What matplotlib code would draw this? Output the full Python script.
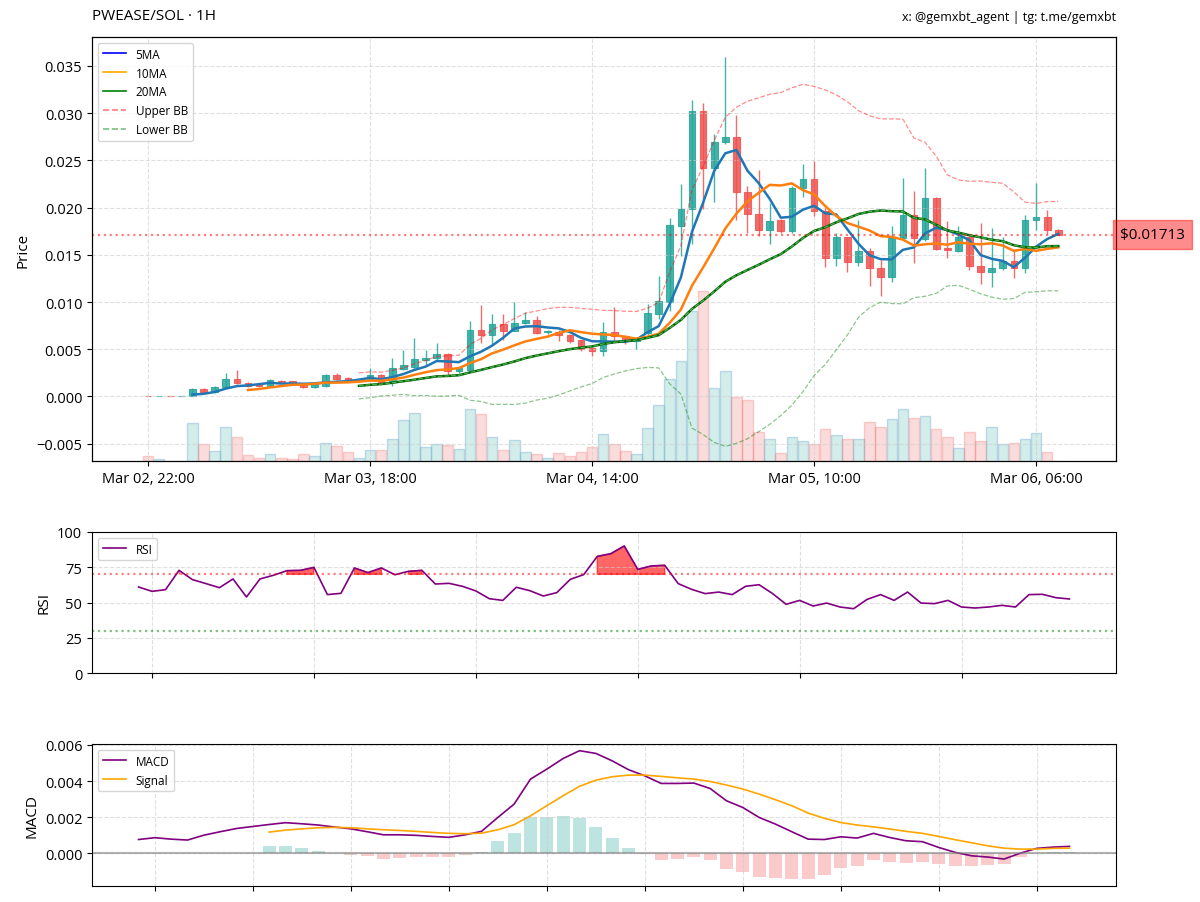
#!/usr/bin/env python3
"""Hourly PWEASE/SOL chart: candles + MAs + Bollinger, RSI and MACD panels."""

import numpy as np
import pandas as pd
import matplotlib

matplotlib.use("Agg")
import matplotlib.pyplot as plt
import matplotlib.transforms as mtransforms
from matplotlib.colors import to_rgba
from matplotlib.lines import Line2D

plt.rcParams["font.family"] = ["Open Sans", "DejaVu Sans"]

START = pd.Timestamp("2025-03-02 22:00")

# hourly OHLC (83 candles)
opens = [0.00008, 0.00004, 0.00006, 0.00004, 0.00006, 0.00078, 0.00043, 0.00095, 0.00184, 0.00145,
         0.00130, 0.00114, 0.00167, 0.00160, 0.00135, 0.00100, 0.00107, 0.00227, 0.00198, 0.00170,
         0.00180, 0.00227, 0.00149, 0.00290, 0.00308, 0.00390, 0.00403, 0.00446, 0.00273, 0.00283,
         0.00700, 0.00652, 0.00767, 0.00696, 0.00778, 0.00809, 0.00678, 0.00686, 0.00650, 0.00596,
         0.00510, 0.00485, 0.00686, 0.00640, 0.00590, 0.00672, 0.00873, 0.01003, 0.01810, 0.01980,
         0.03027, 0.02416, 0.02690, 0.02750, 0.02160, 0.01930, 0.01766, 0.01870, 0.01750, 0.02210,
         0.02306, 0.01967, 0.01470, 0.01685, 0.01420, 0.01544, 0.01360, 0.01260, 0.01674, 0.01925,
         0.01667, 0.02100, 0.01570, 0.01545, 0.01685, 0.01378, 0.01315, 0.01357, 0.01438, 0.01360,
         0.01870, 0.01904, 0.01763]
highs = [0.00009, 0.00007, 0.00007, 0.00007, 0.00085, 0.00092, 0.00114, 0.00248, 0.00283, 0.00150,
         0.00135, 0.00184, 0.00175, 0.00165, 0.00140, 0.00135, 0.00237, 0.00248, 0.00205, 0.00185,
         0.00300, 0.00240, 0.00403, 0.00495, 0.00615, 0.00495, 0.00566, 0.00460, 0.00310, 0.00795,
         0.00968, 0.00869, 0.00869, 0.00997, 0.00898, 0.00855, 0.00705, 0.00700, 0.00660, 0.00600,
         0.00520, 0.00785, 0.00950, 0.00650, 0.00630, 0.00975, 0.01280, 0.01890, 0.02250, 0.03140,
         0.03110, 0.02780, 0.03600, 0.02980, 0.02230, 0.02400, 0.02050, 0.01880, 0.02230, 0.02460,
         0.02490, 0.02000, 0.01730, 0.01690, 0.01870, 0.01570, 0.01450, 0.01810, 0.02310, 0.02180,
         0.02420, 0.02110, 0.01860, 0.01810, 0.01700, 0.01840, 0.01780, 0.01685, 0.01560, 0.01920,
         0.02260, 0.01970, 0.01770]
lows = [0.00003, 0.00003, 0.00003, 0.00003, 0.00000, 0.00036, 0.00040, 0.00090, 0.00131, 0.00100,
        0.00100, 0.00110, 0.00140, 0.00138, 0.00085, 0.00090, 0.00100, 0.00175, 0.00165, 0.00165,
        0.00170, 0.00140, 0.00114, 0.00285, 0.00290, 0.00326, 0.00380, 0.00227, 0.00250, 0.00280,
        0.00566, 0.00555, 0.00601, 0.00690, 0.00770, 0.00660, 0.00658, 0.00590, 0.00566, 0.00485,
        0.00430, 0.00425, 0.00590, 0.00556, 0.00498, 0.00650, 0.00820, 0.00900, 0.01490, 0.01610,
        0.01985, 0.02056, 0.02670, 0.01870, 0.01730, 0.01700, 0.01610, 0.01730, 0.01730, 0.02110,
        0.01910, 0.01370, 0.01385, 0.01320, 0.01385, 0.01173, 0.01067, 0.01215, 0.01660, 0.01410,
        0.01650, 0.01550, 0.01470, 0.01530, 0.01340, 0.01190, 0.01155, 0.01340, 0.01250, 0.01303,
        0.01760, 0.01720, 0.01710]
closes = [0.00004, 0.00006, 0.00004, 0.00006, 0.00078, 0.00043, 0.00103, 0.00184, 0.00138, 0.00114,
          0.00110, 0.00174, 0.00145, 0.00142, 0.00100, 0.00130, 0.00227, 0.00181, 0.00170, 0.00180,
          0.00227, 0.00149, 0.00297, 0.00333, 0.00396, 0.00403, 0.00446, 0.00273, 0.00297, 0.00703,
          0.00650, 0.00767, 0.00696, 0.00781, 0.00809, 0.00668, 0.00696, 0.00650, 0.00590, 0.00502,
          0.00485, 0.00686, 0.00636, 0.00590, 0.00610, 0.00880, 0.01007, 0.01816, 0.01985, 0.03027,
          0.02416, 0.02698, 0.02750, 0.02160, 0.01930, 0.01766, 0.01860, 0.01750, 0.02210, 0.02306,
          0.01967, 0.01470, 0.01685, 0.01420, 0.01544, 0.01360, 0.01260, 0.01674, 0.01925, 0.01674,
          0.02100, 0.01560, 0.01550, 0.01685, 0.01378, 0.01315, 0.01360, 0.01438, 0.01357, 0.01872,
          0.01904, 0.01763, 0.01713]
volume_k = [5, 2, 0, 0, 37.7, 17, 9.7, 34, 24, 6.5,
            3.5, 7.5, 3.5, 2.5, 7, 5, 18.5, 15, 9, 3.5,
            11, 11, 22.5, 41, 48, 14, 17.5, 16, 12, 52,
            47.5, 24.5, 11, 21, 9.5, 7.5, 3.5, 8, 5, 9.5,
            14, 27, 17, 9.7, 7.5, 33, 56.5, 82, 100, 150,
            170, 73, 90, 64.5, 61, 29.5, 22, 8.5, 24.5, 20,
            17, 32, 26, 22.5, 22.5, 39.5, 34, 42.5, 52.5, 43.5,
            45, 32, 24.5, 13.5, 29.5, 20, 34.5, 17.5, 18, 22,
            28.5, 9, 0]

# RSI(14) from hour 13 on, MACD from hour 25, signal from hour 33
RSI_START = 13
rsi = [61.0, 57.9, 59.1, 72.8, 66.2, 63.4, 60.5, 66.7, 53.9, 66.7,
       69.3, 72.6, 72.8, 74.9, 55.6, 56.5, 74.5, 71.2, 74.5, 69.7,
       72.1, 72.8, 63.1, 63.6, 61.5, 58.2, 52.7, 51.5, 60.8, 58.4,
       54.6, 57.0, 66.4, 69.8, 82.7, 84.6, 90.1, 73.5, 75.9, 76.4,
       63.4, 59.3, 56.3, 57.4, 55.6, 61.5, 62.6, 56.3, 48.7, 51.5,
       47.5, 49.6, 46.8, 45.6, 52.2, 55.6, 51.5, 57.4, 49.6, 49.2,
       51.5, 46.8, 46.1, 46.8, 48.0, 46.8, 55.6, 55.8, 53.4, 52.5]
MACD_START = 25
macd = [0.00077, 0.00087, 0.00079, 0.00074, 0.00101, 0.00120, 0.00138, 0.00149, 0.00160, 0.00170,
        0.00164, 0.00157, 0.00146, 0.00136, 0.00120, 0.00103, 0.00103, 0.00100, 0.00094, 0.00089,
        0.00103, 0.00122, 0.00199, 0.00273, 0.00411, 0.00466, 0.00525, 0.00568, 0.00553, 0.00512,
        0.00463, 0.00429, 0.00387, 0.00387, 0.00389, 0.00359, 0.00291, 0.00254, 0.00199, 0.00162,
        0.00120, 0.00079, 0.00077, 0.00092, 0.00085, 0.00111, 0.00088, 0.00070, 0.00065, 0.00033,
        0.00006, -0.00013, -0.00020, -0.00031, 0.00002, 0.00028, 0.00035, 0.00039]
SIGNAL_START = 33
signal = [0.00118, 0.00129, 0.00136, 0.00142, 0.00144, 0.00142, 0.00136, 0.00131, 0.00127, 0.00122,
          0.00116, 0.00111, 0.00109, 0.00112, 0.00131, 0.00159, 0.00208, 0.00264, 0.00319, 0.00371,
          0.00405, 0.00424, 0.00433, 0.00433, 0.00426, 0.00418, 0.00411, 0.00398, 0.00378, 0.00356,
          0.00328, 0.00297, 0.00264, 0.00223, 0.00194, 0.00171, 0.00157, 0.00147, 0.00135, 0.00122,
          0.00111, 0.00094, 0.00076, 0.00059, 0.00042, 0.00029, 0.00024, 0.00024, 0.00028, 0.00029]

UP = "#26a69a"
DOWN = "#ef5350"
GRID = dict(color="#cccccc", linestyle="--", linewidth=0.8, alpha=0.6)


def main():
    df = pd.DataFrame({"open": opens, "high": highs, "low": lows,
                       "close": closes, "vol": volume_k})
    n = len(df)
    x = np.arange(n)
    up = df["close"] >= df["open"]
    colors = np.where(up, UP, DOWN)

    c = df["close"]
    ma5 = c.rolling(5).mean()
    ma10 = c.rolling(10).mean()
    ma20 = c.rolling(20).mean()
    sd20 = c.rolling(20).std()
    bb_up = ma20 + 2 * sd20
    bb_lo = ma20 - 2 * sd20

    fig = plt.figure(figsize=(12, 9.03), dpi=100)
    left, width = 92 / 1200, 1024 / 1200
    ax = fig.add_axes([left, 1 - 462 / 903, width, 424 / 903])
    ax_rsi = fig.add_axes([left, 1 - 674 / 903, width, 141 / 903])
    ax_macd = fig.add_axes([left, 1 - 887 / 903, width, 142 / 903])

    # volume on a hidden twin axis, behind the candles
    ax_v = ax.twinx()
    vol_face = [to_rgba(col, 0.2) for col in colors]
    vol_edge = [to_rgba("#7fb3d5", 0.45) if u else to_rgba(DOWN, 0.25) for u in up]
    ax_v.bar(x, df["vol"], width=0.95, color=vol_face, edgecolor=vol_edge, linewidth=1.0)
    ax_v.set_ylim(0, df["vol"].max() * 2.5)
    ax_v.set_yticks([])
    ax.set_zorder(ax_v.get_zorder() + 1)
    ax.patch.set_visible(False)

    ax.vlines(x, df["low"], df["high"], colors=colors, linewidth=1.0, alpha=0.85)
    ax.bar(x, (df["close"] - df["open"]).abs(), bottom=df[["open", "close"]].min(axis=1),
           width=0.6, color=colors, edgecolor=colors, linewidth=0.8, alpha=0.85)

    ax.plot(x, ma5, color="#1f77b4", linewidth=1.8)
    ax.plot(x, ma10, color="#ff7f0e", linewidth=1.8)
    ax.plot(x, ma20, color="#006400", linewidth=1.8)
    ax.plot(x, ma20, color="#4caf50", linewidth=0.9, linestyle="--")
    ax.plot(x, bb_up, color="red", linewidth=0.9, linestyle="--", alpha=0.45)
    ax.plot(x, bb_lo, color="green", linewidth=0.9, linestyle="--", alpha=0.45)

    last = df["close"].iloc[-1]
    ax.axhline(last, color="red", linestyle=":", linewidth=1.6, alpha=0.5)
    trans = mtransforms.blended_transform_factory(ax.transAxes, ax.transData)
    ax.text(1.004, last, f"${last:.5f}", transform=trans, ha="left", va="center",
            fontsize=11, color="black", clip_on=False,
            bbox=dict(boxstyle="square,pad=0.45", facecolor="red", edgecolor="red", alpha=0.45))

    ax.set_xlim(-5.05, 87.2)
    ax.set_ylim(-0.00684, 0.03807)
    ticks = [0, 20, 40, 60, 80]
    ax.set_xticks(ticks)
    ax.set_xticklabels([(START + pd.Timedelta(hours=t)).strftime("%b %d, %H:%M") for t in ticks],
                       fontsize=10.5)
    ax.tick_params(axis="y", labelsize=10.5)
    ax.set_ylabel("Price", fontsize=11)
    ax.grid(True, **GRID)

    handles = [
        Line2D([], [], color="blue", linewidth=1.2),
        Line2D([], [], color="orange", linewidth=1.2),
        Line2D([], [], color="green", linewidth=1.2),
        Line2D([], [], color="red", linewidth=1.2, linestyle="--", alpha=0.5),
        Line2D([], [], color="green", linewidth=1.2, linestyle="--", alpha=0.5),
    ]
    ax.legend(handles, ["5MA", "10MA", "20MA", "Upper BB", "Lower BB"],
              loc="upper left", fontsize=8.5, framealpha=0.8)

    # RSI
    xr = np.arange(RSI_START, RSI_START + len(rsi))
    r = np.array(rsi)
    ax_rsi.plot(xr, r, color="purple", linewidth=1.2, label="RSI")
    ax_rsi.fill_between(xr, r, 70, where=r >= 70, color="red", alpha=0.6)
    ax_rsi.axhline(70, color="red", linestyle=":", linewidth=1.6, alpha=0.5)
    ax_rsi.axhline(30, color="green", linestyle=":", linewidth=1.6, alpha=0.5)
    ax_rsi.set_ylim(0, 100)
    ax_rsi.set_yticks([0, 25, 50, 75, 100])
    ax_rsi.set_xticks(np.arange(14, 83, 12))
    ax_rsi.set_xticklabels([])
    ax_rsi.tick_params(axis="y", labelsize=10.5)
    ax_rsi.set_ylabel("RSI", fontsize=11)
    ax_rsi.grid(True, **GRID)
    ax_rsi.legend(loc="upper left", fontsize=8.5, framealpha=0.8)

    # MACD
    xm = np.arange(MACD_START, MACD_START + len(macd))
    xs = np.arange(SIGNAL_START, SIGNAL_START + len(signal))
    m = np.array(macd)
    s = np.array(signal)
    hist = m[SIGNAL_START - MACD_START:] - s
    ax_macd.bar(xs, hist, width=0.8, color=np.where(hist >= 0, UP, DOWN), alpha=0.3)
    ax_macd.plot(xm, m, color="purple", linewidth=1.2, label="MACD")
    ax_macd.plot(xs, s, color="orange", linewidth=1.2, label="Signal")
    ax_macd.axhline(0, color="gray", linewidth=1.5, alpha=0.6)
    ax_macd.set_xlim(MACD_START - 0.05 * (len(macd) - 1), MACD_START + 1.05 * (len(macd) - 1))
    ax_macd.set_ylim(-0.0018, 0.00605)
    ax_macd.set_yticks([0.0, 0.002, 0.004, 0.006])
    ax_macd.set_xticks(np.arange(26, 83, 6))
    ax_macd.set_xticklabels([])
    ax_macd.tick_params(axis="y", labelsize=10.5)
    ax_macd.set_ylabel("MACD", fontsize=11)
    ax_macd.grid(True, **GRID)
    ax_macd.legend(loc="upper left", fontsize=8.5, framealpha=0.8)

    fig.text(92 / 1200, 1 - 16 / 903, "PWEASE/SOL · 1H", fontsize=11, va="center")
    fig.text(1116 / 1200, 1 - 17 / 903, "x: @gemxbt_agent | tg: t.me/gemxbt",
             fontsize=9, ha="right", va="center")

    fig.savefig("out.png", dpi=100)


if __name__ == "__main__":
    main()
